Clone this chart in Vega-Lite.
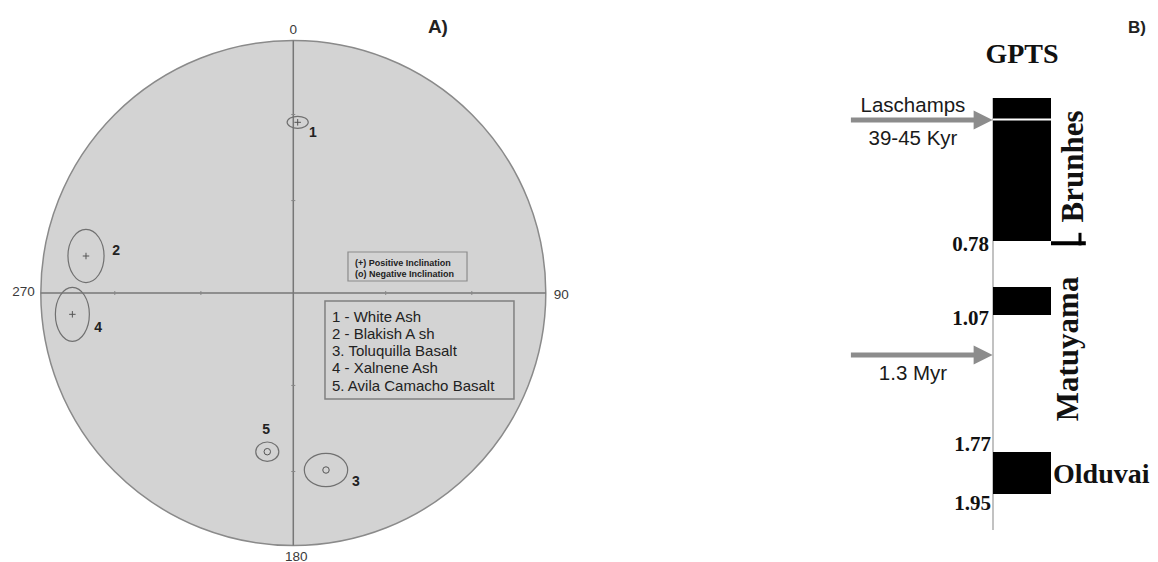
{
  "$schema": "https://vega.github.io/schema/vega-lite/v6.json",
  "background": "white",
  "padding": 0,
  "spacing": 0,
  "datasets": {
    "samples": [
      {"id": 1, "name": "White Ash", "x": 0.0174, "y": 0.676, "lx": 0.078, "ly": 0.632, "ellipse_deg": 7.6, "inclination": "positive"},
      {"id": 2, "name": "Blakish Ash", "x": -0.821, "y": 0.1465, "lx": -0.702, "ly": 0.166, "ellipse_deg": 19.1, "inclination": "positive"},
      {"id": 3, "name": "Toluquilla Basalt", "x": 0.1295, "y": -0.701, "lx": 0.248, "ly": -0.749, "ellipse_deg": 15.6, "inclination": "negative"},
      {"id": 4, "name": "Xalnene Ash", "x": -0.875, "y": -0.0844, "lx": -0.773, "ly": -0.137, "ellipse_deg": 19.4, "inclination": "positive"},
      {"id": 5, "name": "Avila Camacho Basalt", "x": -0.103, "y": -0.6285, "lx": -0.108, "ly": -0.543, "ellipse_deg": 8.3, "inclination": "negative"}
    ],
    "netTicks": [{"r": -0.707}, {"r": -0.366}, {"r": 0.366}, {"r": 0.707}],
    "chrons": [
      {"chron": "Brunhes", "start": 0, "end": 0.78},
      {"chron": "Jaramillo", "start": 0.99, "end": 1.07},
      {"chron": "Olduvai", "start": 1.77, "end": 1.95}
    ],
    "events": [
      {"event": "Laschamps", "age": 0.042, "label_top": "Laschamps", "label_bottom": "39-45 Kyr"},
      {"event": "1.3 Myr", "age": 1.3, "label_top": "", "label_bottom": "1.3 Myr"}
    ],
    "ages": [{"age": 0.78}, {"age": 1.07}, {"age": 1.77}, {"age": 1.95}]
  },
  "hconcat": [
    {
      "width": 600,
      "height": 562,
      "resolve": {"scale": {"shape": "independent", "size": "independent"}},
      "layer": [
        {
          "data": {"values": [{}]},
          "mark": {"type": "point", "shape": "circle", "filled": true, "fill": "#d3d3d3", "stroke": "#8a8a8a", "strokeWidth": 1.5, "size": 255025, "opacity": 1},
          "encoding": {
            "x": {"datum": 0, "type": "quantitative", "scale": {"domain": [-1.1616, 1.2147], "nice": false, "zero": false}},
            "y": {"datum": 0, "type": "quantitative", "scale": {"domain": [-1.0653, 1.1604], "nice": false, "zero": false}}
          }
        },
        {
          "data": {"values": [{}]},
          "mark": {"type": "rule", "stroke": "#777777", "strokeWidth": 1.5},
          "encoding": {"x": {"datum": -1, "type": "quantitative"}, "x2": {"datum": 1}, "y": {"datum": 0, "type": "quantitative"}}
        },
        {
          "data": {"values": [{}]},
          "mark": {"type": "rule", "stroke": "#777777", "strokeWidth": 1.5},
          "encoding": {"x": {"datum": 0, "type": "quantitative"}, "y": {"datum": -1, "type": "quantitative"}, "y2": {"datum": 1}}
        },
        {
          "data": {"name": "netTicks"},
          "mark": {"type": "point", "shape": "M 0 -1 L 0 1", "filled": false, "stroke": "#888888", "strokeWidth": 1, "size": 16, "opacity": 1},
          "encoding": {"x": {"field": "r", "type": "quantitative"}, "y": {"datum": 0, "type": "quantitative"}}
        },
        {
          "data": {"name": "netTicks"},
          "mark": {"type": "point", "shape": "M -1 0 L 1 0", "filled": false, "stroke": "#888888", "strokeWidth": 1, "size": 16, "opacity": 1},
          "encoding": {"x": {"datum": 0, "type": "quantitative"}, "y": {"field": "r", "type": "quantitative"}}
        },
        {
          "data": {"name": "samples"},
          "mark": {"type": "point", "filled": false, "stroke": "#707070", "strokeWidth": 1.2, "opacity": 1},
          "encoding": {
            "x": {"field": "x", "type": "quantitative"},
            "y": {"field": "y", "type": "quantitative"},
            "shape": {"field": "id", "type": "nominal", "legend": null, "scale": {"domain": [1, 2, 3, 4, 5], "range": [
              "M 1 0 C 1 0.315 0.552 0.57 0 0.57 C -0.552 0.57 -1 0.315 -1 0 C -1 -0.315 -0.552 -0.57 0 -0.57 C 0.552 -0.57 1 -0.315 1 0 Z",
              "M 0.68 0 C 0.68 0.552 0.376 1 0 1 C -0.376 1 -0.68 0.552 -0.68 0 C -0.68 -0.552 -0.376 -1 0 -1 C 0.376 -1 0.68 -0.552 0.68 0 Z",
              "M 1 0 C 1 0.425 0.552 0.77 0 0.77 C -0.552 0.77 -1 0.425 -1 0 C -1 -0.425 -0.552 -0.77 0 -0.77 C 0.552 -0.77 1 -0.425 1 0 Z",
              "M 0.63 0 C 0.63 0.552 0.348 1 0 1 C -0.348 1 -0.63 0.552 -0.63 0 C -0.63 -0.552 -0.348 -1 0 -1 C 0.348 -1 0.63 -0.552 0.63 0 Z",
              "M 1 0 C 1 0.464 0.552 0.84 0 0.84 C -0.552 0.84 -1 0.464 -1 0 C -1 -0.464 -0.552 -0.84 0 -0.84 C 0.552 -0.84 1 -0.464 1 0 Z"
            ]}},
            "size": {"field": "ellipse_deg", "type": "quantitative", "legend": null, "scale": {"type": "pow", "exponent": 2, "domain": [0, 20], "range": [0, 3091]}}
          }
        },
        {
          "data": {"name": "samples"},
          "mark": {"type": "point", "filled": false, "stroke": "#555555", "strokeWidth": 1, "size": 42, "opacity": 1},
          "encoding": {
            "x": {"field": "x", "type": "quantitative"},
            "y": {"field": "y", "type": "quantitative"},
            "shape": {"field": "inclination", "type": "nominal", "legend": null, "scale": {"domain": ["positive", "negative"], "range": ["M -1 0 L 1 0 M 0 -1 L 0 1", "circle"]}}
          }
        },
        {
          "data": {"name": "samples"},
          "mark": {"type": "text", "font": "Liberation Sans", "fontWeight": "bold", "fontSize": 14, "color": "#222222", "align": "center", "baseline": "middle"},
          "encoding": {
            "x": {"field": "lx", "type": "quantitative"},
            "y": {"field": "ly", "type": "quantitative"},
            "text": {"field": "id", "type": "nominal"}
          }
        },
        {
          "data": {"values": [{}]},
          "mark": {"type": "rect", "fillOpacity": 0, "stroke": "#8c8c8c", "strokeWidth": 1.2},
          "encoding": {"x": {"datum": 0.2166, "type": "quantitative"}, "x2": {"datum": 0.688}, "y": {"datum": 0.1624, "type": "quantitative"}, "y2": {"datum": 0.0475}}
        },
        {
          "data": {"values": [{}]},
          "mark": {"type": "text", "font": "Liberation Sans", "fontWeight": "bold", "fontSize": 9, "lineHeight": 11, "color": "#222222", "align": "left", "baseline": "middle"},
          "encoding": {"x": {"datum": 0.2444, "type": "quantitative"}, "y": {"datum": 0.1208, "type": "quantitative"}, "text": {"value": ["(+) Positive Inclination", "(o) Negative Inclination"]}}
        },
        {
          "data": {"values": [{}]},
          "mark": {"type": "rect", "fillOpacity": 0, "stroke": "#808080", "strokeWidth": 1.5},
          "encoding": {"x": {"datum": 0.1255, "type": "quantitative"}, "x2": {"datum": 0.874}, "y": {"datum": -0.0317, "type": "quantitative"}, "y2": {"datum": -0.4198}}
        },
        {
          "data": {"values": [{}]},
          "mark": {"type": "text", "font": "Liberation Sans", "fontSize": 15, "lineHeight": 17.25, "color": "#222222", "align": "left", "baseline": "middle"},
          "encoding": {"x": {"datum": 0.1533, "type": "quantitative"}, "y": {"datum": -0.0931, "type": "quantitative"}, "text": {"value": ["1 - White Ash", "2 - Blakish A sh", "3. Toluquilla Basalt", "4 - Xalnene Ash", "5. Avila Camacho Basalt"]}}
        },
        {
          "data": {"values": [{}]},
          "mark": {"type": "text", "font": "Liberation Sans", "fontSize": 13.5, "color": "#3a3a3a", "align": "center", "baseline": "middle", "dy": -11},
          "encoding": {"x": {"datum": 0, "type": "quantitative"}, "y": {"datum": 1, "type": "quantitative"}, "text": {"value": "0"}}
        },
        {
          "data": {"values": [{}]},
          "mark": {"type": "text", "font": "Liberation Sans", "fontSize": 13.5, "color": "#3a3a3a", "align": "center", "baseline": "middle", "dy": 11, "dx": 3},
          "encoding": {"x": {"datum": 0, "type": "quantitative"}, "y": {"datum": -1, "type": "quantitative"}, "text": {"value": "180"}}
        },
        {
          "data": {"values": [{}]},
          "mark": {"type": "text", "font": "Liberation Sans", "fontSize": 13.5, "color": "#3a3a3a", "align": "right", "baseline": "middle", "dx": -6, "dy": -1},
          "encoding": {"x": {"datum": -1, "type": "quantitative"}, "y": {"datum": 0, "type": "quantitative"}, "text": {"value": "270"}}
        },
        {
          "data": {"values": [{}]},
          "mark": {"type": "text", "font": "Liberation Sans", "fontSize": 13.5, "color": "#3a3a3a", "align": "left", "baseline": "middle", "dx": 8, "dy": 2},
          "encoding": {"x": {"datum": 1, "type": "quantitative"}, "y": {"datum": 0, "type": "quantitative"}, "text": {"value": "90"}}
        },
        {
          "data": {"values": [{}]},
          "mark": {"type": "text", "font": "Liberation Sans", "fontWeight": "bold", "fontSize": 19, "color": "#222222", "align": "left", "baseline": "alphabetic", "dy": -8},
          "encoding": {"x": {"datum": 0.533, "type": "quantitative"}, "y": {"datum": 1, "type": "quantitative"}, "text": {"value": "A)"}}
        }
      ]
    },
    {
      "width": 558,
      "height": 562,
      "layer": [
        {
          "data": {"values": [{}]},
          "mark": {"type": "rule", "stroke": "#9a9a9a", "strokeWidth": 1.2},
          "encoding": {
            "x": {"datum": 0, "type": "quantitative", "scale": {"domain": [-6.7759, 2.8448], "nice": false, "zero": false}},
            "y": {"datum": 0, "type": "quantitative", "scale": {"domain": [0, 0.042, 0.78, 0.99, 1.07, 1.3, 1.77, 1.95, 2.24], "range": [98, 120, 241, 287, 315, 355, 452, 494, 562], "nice": false, "zero": false}},
            "y2": {"datum": 2.104}
          }
        },
        {
          "data": {"name": "chrons"},
          "mark": {"type": "rect", "color": "#000000"},
          "encoding": {
            "x": {"datum": 0, "type": "quantitative"}, "x2": {"datum": 1},
            "y": {"field": "start", "type": "quantitative"}, "y2": {"field": "end"}
          }
        },
        {
          "data": {"values": [{}]},
          "mark": {"type": "rect", "color": "#ffffff"},
          "encoding": {"x": {"datum": 0, "type": "quantitative"}, "x2": {"datum": 1}, "y": {"datum": 0.039, "type": "quantitative"}, "y2": {"datum": 0.045}}
        },
        {
          "data": {"values": [{}]},
          "mark": {"type": "rule", "stroke": "#000000", "strokeWidth": 4},
          "encoding": {"x": {"datum": 1, "type": "quantitative"}, "x2": {"datum": 1.6}, "y": {"datum": 0.79, "type": "quantitative"}}
        },
        {
          "data": {"values": [{}]},
          "mark": {"type": "rule", "stroke": "#000000", "strokeWidth": 3},
          "encoding": {"x": {"datum": 1.5, "type": "quantitative"}, "y": {"datum": 0.73, "type": "quantitative"}, "y2": {"datum": 0.8}}
        },
        {
          "data": {"name": "events"},
          "mark": {"type": "rule", "stroke": "#8c8c8c", "strokeWidth": 5},
          "encoding": {"x": {"datum": -2.45, "type": "quantitative"}, "x2": {"datum": -0.3}, "y": {"field": "age", "type": "quantitative"}}
        },
        {
          "data": {"name": "events"},
          "mark": {"type": "point", "shape": "M -1 -1 L 1 0 L -1 1 Z", "filled": true, "color": "#8c8c8c", "size": 361, "opacity": 1},
          "encoding": {"x": {"datum": -0.17, "type": "quantitative"}, "y": {"field": "age", "type": "quantitative"}}
        },
        {
          "data": {"name": "events"},
          "mark": {"type": "text", "font": "Liberation Sans", "fontSize": 20.5, "color": "#1a1a1a", "align": "center", "baseline": "alphabetic", "dy": -8},
          "encoding": {"x": {"datum": -1.38, "type": "quantitative"}, "y": {"field": "age", "type": "quantitative"}, "text": {"field": "label_top"}}
        },
        {
          "data": {"name": "events"},
          "mark": {"type": "text", "font": "Liberation Sans", "fontSize": 20.5, "color": "#1a1a1a", "align": "center", "baseline": "alphabetic", "dy": 25},
          "encoding": {"x": {"datum": -1.38, "type": "quantitative"}, "y": {"field": "age", "type": "quantitative"}, "text": {"field": "label_bottom"}}
        },
        {
          "data": {"name": "ages"},
          "transform": [{"filter": "datum.age < 1.5"}],
          "mark": {"type": "text", "font": "Liberation Serif", "fontWeight": "bold", "fontSize": 21, "color": "#111111", "align": "right", "baseline": "middle", "dx": -4, "dy": 4},
          "encoding": {"x": {"datum": 0, "type": "quantitative"}, "y": {"field": "age", "type": "quantitative"}, "text": {"field": "age", "type": "quantitative", "format": ".2f"}}
        },
        {
          "data": {"name": "ages"},
          "transform": [{"filter": "datum.age > 1.7 && datum.age < 1.8"}],
          "mark": {"type": "text", "font": "Liberation Serif", "fontWeight": "bold", "fontSize": 21, "color": "#111111", "align": "right", "baseline": "middle", "dx": -2, "dy": -7},
          "encoding": {"x": {"datum": 0, "type": "quantitative"}, "y": {"field": "age", "type": "quantitative"}, "text": {"field": "age", "type": "quantitative", "format": ".2f"}}
        },
        {
          "data": {"name": "ages"},
          "transform": [{"filter": "datum.age > 1.9"}],
          "mark": {"type": "text", "font": "Liberation Serif", "fontWeight": "bold", "fontSize": 21, "color": "#111111", "align": "right", "baseline": "middle", "dx": -2, "dy": 10},
          "encoding": {"x": {"datum": 0, "type": "quantitative"}, "y": {"field": "age", "type": "quantitative"}, "text": {"field": "age", "type": "quantitative", "format": ".2f"}}
        },
        {
          "data": {"values": [{}]},
          "mark": {"type": "text", "font": "Liberation Serif", "fontWeight": "bold", "fontSize": 31, "color": "#111111", "align": "center", "baseline": "alphabetic", "angle": 270},
          "encoding": {"x": {"datum": 1.552, "type": "quantitative"}, "y": {"datum": 0.325, "type": "quantitative"}, "text": {"value": "Brunhes"}}
        },
        {
          "data": {"values": [{}]},
          "mark": {"type": "text", "font": "Liberation Serif", "fontWeight": "bold", "fontSize": 31, "color": "#111111", "align": "center", "baseline": "alphabetic", "angle": 270},
          "encoding": {"x": {"datum": 1.466, "type": "quantitative"}, "y": {"datum": 1.265, "type": "quantitative"}, "text": {"value": "Matuyama"}}
        },
        {
          "data": {"values": [{}]},
          "mark": {"type": "text", "font": "Liberation Serif", "fontWeight": "bold", "fontSize": 28, "color": "#111111", "align": "left", "baseline": "middle", "dx": 2, "dy": 2},
          "encoding": {"x": {"datum": 1, "type": "quantitative"}, "y": {"datum": 1.86, "type": "quantitative"}, "text": {"value": "Olduvai"}}
        },
        {
          "data": {"values": [{}]},
          "mark": {"type": "text", "font": "Liberation Serif", "fontWeight": "bold", "fontSize": 28, "color": "#111111", "align": "center", "baseline": "alphabetic", "dy": -35},
          "encoding": {"x": {"datum": 0.5, "type": "quantitative"}, "y": {"datum": 0, "type": "quantitative"}, "text": {"value": "GPTS"}}
        },
        {
          "data": {"values": [{}]},
          "mark": {"type": "text", "font": "Liberation Sans", "fontWeight": "bold", "fontSize": 17, "color": "#222222", "align": "left", "baseline": "alphabetic", "dy": -65},
          "encoding": {"x": {"datum": 2.328, "type": "quantitative"}, "y": {"datum": 0, "type": "quantitative"}, "text": {"value": "B)"}}
        }
      ]
    }
  ],
  "config": {
    "view": {"stroke": null},
    "axis": {"disable": true},
    "legend": {"disable": true}
  }
}
